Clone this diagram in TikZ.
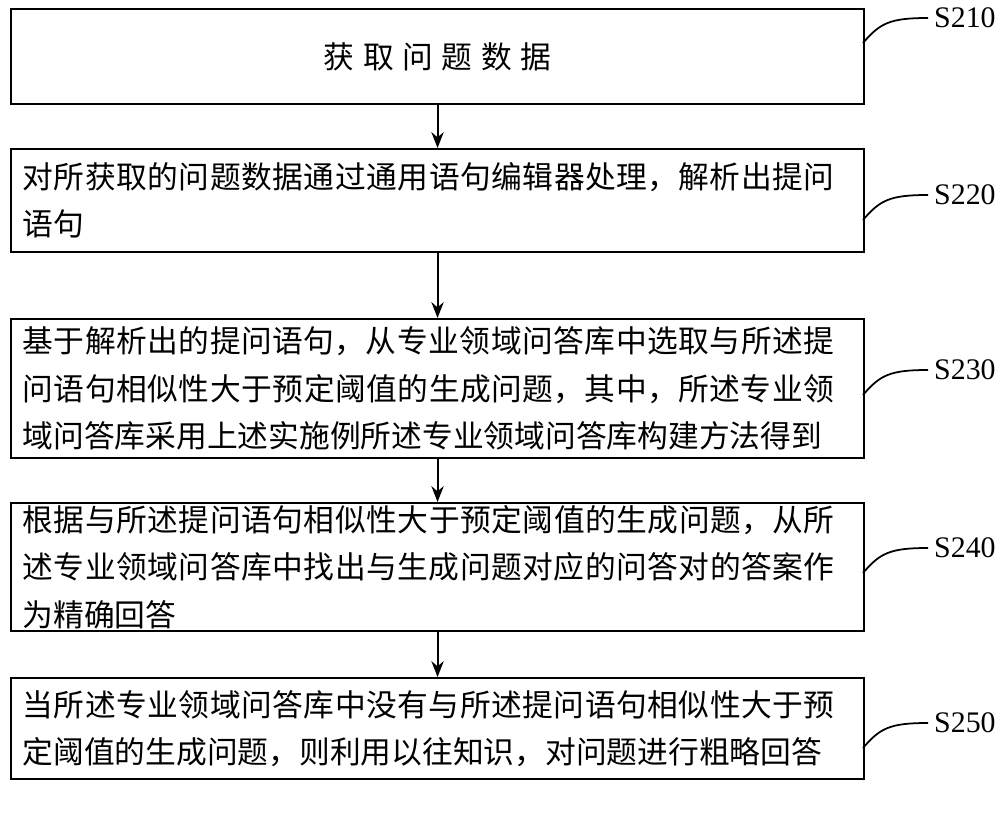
\documentclass[tikz,border=0pt]{standalone}
\usetikzlibrary{arrows.meta}
\usepackage{fontspec}
\newfontfamily\cjk{Noto Sans CJK SC}
\setmainfont{Liberation Serif}
\XeTeXlinebreaklocale "zh"
\XeTeXlinebreakskip=0pt plus 1pt
\begin{document}
\begin{tikzpicture}[x=0.02cm,y=-0.02cm,
  box/.style={draw,line width=1.2pt,minimum width=853*0.02cm,anchor=north west,inner sep=0pt},
  txt/.style={text width=16.6cm,align=left,font=\cjk\fontsize{17.5}{27}\selectfont},
  lab/.style={font=\fontsize{17}{20}\selectfont,anchor=west},
  arr/.style={-{Stealth[length=9pt,width=7pt]},line width=1.2pt}]
\useasboundingbox (0,0) rectangle (1000,818);
\node[box,minimum height=95*0.02cm] (b1) at (10,8) {};
\node[box,minimum height=103*0.02cm] (b2) at (10,148) {};
\node[box,minimum height=139*0.02cm] (b3) at (10,318) {};
\node[box,minimum height=128*0.02cm] (b4) at (10,502) {};
\node[box,minimum height=101*0.02cm] (b5) at (10,677) {};
\node[txt,align=center] (t1) at (b1.center) {获取问题数据};
\node[txt] (t2) at (b2.center) {对所获取的问题数据通过通用语句编辑器处理，解析出提问语句};
\node[txt] (t3) at (b3.center) {基于解析出的提问语句，从专业领域问答库中选取与所述提问语句相似性大于预定阈值的生成问题，其中，所述专业领域问答库采用上述实施例所述专业领域问答库构建方法得到};
\node[txt] (t4) at (b4.center) {根据与所述提问语句相似性大于预定阈值的生成问题，从所述专业领域问答库中找出与生成问题对应的问答对的答案作为精确回答};
\node[txt] (t5) at (b5.center) {当所述专业领域问答库中没有与所述提问语句相似性大于预定阈值的生成问题，则利用以往知识，对问题进行粗略回答};
\foreach \a/\b in {b1/b2,b2/b3,b3/b4,b4/b5} \draw[arr] (\a.south) -- (\b.north);
\foreach \b/\s/\y in {b1/S210/18,b2/S220/195,b3/S230/370,b4/S240/548,b5/S250/723}{
  \node[lab] (l\s) at (928,\y) {\s};
  \coordinate (e\s) at (863,\y+25);
  \draw[line width=1pt] (e\s) .. controls (880,\y+5) and (890,\y) .. (l\s.west);
}
\end{tikzpicture}
\end{document}
